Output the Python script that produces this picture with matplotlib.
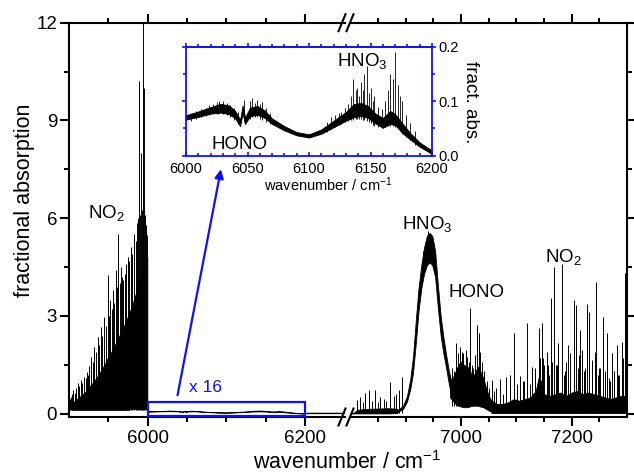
import matplotlib
matplotlib.use('Agg')
import matplotlib.pyplot as plt
from matplotlib.ticker import FixedLocator, MultipleLocator, FormatStrFormatter
from matplotlib.patches import Rectangle, FancyArrowPatch
from matplotlib.lines import Line2D

plt.rcParams['font.family'] = ['Liberation Sans', 'DejaVu Sans']
plt.rcParams['mathtext.fontset'] = 'custom'
plt.rcParams['mathtext.rm'] = 'Liberation Sans'
plt.rcParams['mathtext.it'] = 'Liberation Sans:italic'

# ---- NO2 band, 5900-6000 cm-1: dense body (lo/hi) and the single lines on top
no2a_wn = [5900, 5905, 5910, 5915, 5920, 5925, 5930, 5935, 5940, 5945, 5950,
           5955, 5960, 5965, 5970, 5975, 5980, 5985, 5990, 5995, 5999.5]
no2a_lo = [0.15, 0.12, 0.12, 0.12, 0.12, 0.12, 0.12, 0.12, 0.12, 0.12, 0.12,
           0.12, 0.12, 0.12, 0.12, 0.12, 0.15, 0.15, 0.15, 0.2, 0.2]
no2a_hi = [0.25, 0.35, 0.45, 0.55, 0.65, 0.8, 0.95, 1.1, 1.3, 1.5, 1.75,
           1.95, 2.2, 2.45, 2.7, 3.0, 3.3, 3.7, 4.1, 4.6, 4.8]
no2a_pk_wn = [5901, 5902.5, 5904, 5905.5, 5907, 5909, 5911, 5913, 5915, 5917,
              5919.5, 5921, 5922.5, 5924, 5926, 5928, 5930, 5932, 5934, 5936.5,
              5938.5, 5940.7, 5942.5, 5945, 5947, 5949, 5951, 5952.5, 5954,
              5955.5, 5957.5, 5959.7, 5961, 5962.7, 5964.5, 5966, 5967.5, 5969,
              5971, 5972.5, 5974.6, 5976.5, 5978.8, 5980.5, 5983, 5985, 5987,
              5988, 5989, 5990, 5991.5, 5992.5, 5993.6, 5994.5, 5995.3, 5996.5,
              5998, 5999]
no2a_pk_h = [0.45, 0.52, 0.6, 0.73, 0.65, 0.8, 0.93, 0.85, 1.03, 0.95,
             1.14, 1.1, 1.29, 1.2, 1.45, 1.75, 1.6, 2.06, 1.9, 2.36,
             2.1, 2.67, 2.4, 2.98, 2.7, 4.25, 3.0, 3.49, 3.2,
             3.8, 3.4, 4.4, 3.9, 5.53, 4.0, 4.5, 4.2, 4.1,
             4.3, 4.6, 4.82, 4.7, 5.12, 4.9, 5.53, 5.3, 5.84,
             6.0, 10.2, 6.1, 8.0, 6.25, 12.1, 6.0, 10.0, 6.1,
             5.8, 5.5]

# ---- 6000-6200 cm-1 (shown magnified in the inset): mean level and noise half width
ins_wn = [6000, 6010, 6020, 6028, 6035, 6040, 6044, 6046, 6048, 6052, 6058, 6064,
          6070, 6080, 6090, 6100, 6110, 6120, 6130, 6136, 6142, 6148, 6154, 6160,
          6166, 6170, 6176, 6182, 6190, 6200]
ins_mid = [0.070, 0.076, 0.083, 0.087, 0.084, 0.075, 0.060, 0.085, 0.064, 0.080,
           0.083, 0.076, 0.063, 0.050, 0.040, 0.036, 0.044, 0.058, 0.072, 0.082,
           0.085, 0.080, 0.068, 0.060, 0.070, 0.066, 0.050, 0.036, 0.020, 0.006]
ins_hw = [0.004, 0.005, 0.006, 0.008, 0.008, 0.007, 0.006, 0.007, 0.006, 0.008,
          0.008, 0.007, 0.005, 0.004, 0.003, 0.003, 0.004, 0.006, 0.008, 0.012,
          0.012, 0.011, 0.009, 0.009, 0.012, 0.010, 0.009, 0.006, 0.004, 0.003]
ins_pk_wn = [6004, 6008, 6012, 6016, 6019, 6022, 6025, 6027, 6030, 6033, 6036,
             6039, 6042, 6047, 6052, 6054, 6056, 6058, 6060, 6062, 6065, 6068,
             6115, 6118, 6121, 6124, 6126, 6129, 6132, 6134, 6136, 6138, 6139,
             6141, 6142, 6144, 6145, 6147, 6149, 6150, 6152, 6153, 6156, 6159,
             6162, 6164, 6166, 6168, 6170, 6172, 6174, 6176, 6179, 6182, 6186]
ins_pk_lo = [0.064, 0.068, 0.070, 0.072, 0.075, 0.076, 0.077, 0.076, 0.076, 0.074,
             0.070, 0.066, 0.058, 0.062, 0.068, 0.070, 0.070, 0.070, 0.068, 0.066,
             0.062, 0.058, 0.044, 0.048, 0.052, 0.056, 0.058, 0.062, 0.064, 0.066,
             0.066, 0.068, 0.068, 0.068, 0.068, 0.066, 0.066, 0.064, 0.062, 0.060,
             0.056, 0.055, 0.052, 0.050, 0.052, 0.054, 0.054, 0.054, 0.052, 0.050,
             0.046, 0.040, 0.034, 0.028, 0.020]
ins_pk_h = [0.078, 0.082, 0.085, 0.088, 0.092, 0.095, 0.098, 0.100, 0.100, 0.096,
            0.092, 0.088, 0.080, 0.102, 0.100, 0.105, 0.096, 0.102, 0.095, 0.098,
            0.088, 0.078, 0.062, 0.070, 0.075, 0.078, 0.080, 0.088, 0.095, 0.110,
            0.140, 0.120, 0.125, 0.110, 0.135, 0.120, 0.150, 0.165, 0.115, 0.125,
            0.100, 0.110, 0.090, 0.085, 0.100, 0.120, 0.150, 0.140, 0.190, 0.130,
            0.110, 0.100, 0.075, 0.060, 0.045]
tail_wn = [6200, 6210, 6230, 6250]
tail_y = [0.006, 0.01, 0.01, 0.01]

# ---- 6800-6890 cm-1: weak lines
pre_wn = [6800, 6806, 6812, 6830, 6850, 6870, 6885]
pre_lo = [0.01, 0.01, 0.01, 0.01, 0.01, 0.01, 0.02]
pre_hi = [0.03, 0.03, 0.12, 0.15, 0.16, 0.17, 0.15]
pre_pk_wn = [6811.5, 6817.5, 6822, 6826.6, 6832.6, 6838, 6844.7, 6849, 6853.7,
             6859.7, 6865, 6871.8, 6877.8, 6882, 6886.8, 6892.9]
pre_pk_h = [0.42, 0.52, 0.35, 0.63, 0.73, 0.4, 0.73, 0.35, 0.5,
            0.45, 0.38, 0.98, 0.55, 0.6, 0.73, 1.13]

# ---- HNO3 band: centre line and noise half width
hn_wn = [6870, 6885, 6895, 6902, 6908, 6913, 6918, 6923, 6928, 6933, 6938,
         6943, 6948, 6953, 6958, 6963, 6968, 6973, 6978, 6983, 6988]
hn_mid = [0.05, 0.08, 0.2, 0.45, 0.9, 1.5, 2.5, 3.5, 4.2, 4.7, 5.0,
          5.1, 5.0, 4.6, 3.6, 2.7, 2.1, 1.6, 1.1, 0.75, 0.55]
hn_hw = [0.02, 0.03, 0.05, 0.08, 0.15, 0.25, 0.35, 0.35, 0.35, 0.4, 0.45,
         0.45, 0.45, 0.4, 0.35, 0.3, 0.25, 0.2, 0.2, 0.2, 0.2]
hn_pk_wn = [6932, 6936, 6939, 6941, 6944, 6947, 6950]
hn_pk_h = [5.0, 5.3, 5.5, 5.6, 5.5, 5.4, 5.2]

# ---- HONO band
ho_wn = [6980, 6985, 6990, 6995, 7000, 7005, 7010, 7015, 7020, 7025, 7030,
         7035, 7040, 7045, 7050, 7055, 7060]
ho_lo = [0.5, 0.4, 0.3, 0.25, 0.22, 0.2, 0.2, 0.22, 0.25, 0.25, 0.25,
         0.22, 0.2, 0.15, 0.1, 0.06, 0.04]
ho_hi = [1.0, 1.1, 1.3, 1.5, 1.6, 1.5, 1.45, 1.4, 1.1, 1.25, 1.45,
         1.3, 1.1, 0.8, 0.55, 0.4, 0.35]
ho_pk_wn = [6984, 6987, 6991, 6994, 6998, 7001, 7004, 7008, 7011, 7014, 7016.5,
            7019, 7022, 7025, 7028.6, 7031.5, 7034, 7038, 7042, 7046, 7050]
ho_pk_h = [1.4, 1.3, 2.16, 1.86, 2.06, 1.9, 1.85, 1.95, 1.75, 1.6, 3.23,
           1.5, 1.4, 1.8, 2.72, 2.47, 1.9, 1.6, 1.3, 1.0, 0.8]

# ---- NO2 lines, 7055-7300 cm-1
ra_wn = [7055, 7065, 7075, 7085, 7095, 7105, 7115, 7125, 7135, 7140, 7145, 7150,
         7160, 7170, 7180, 7190, 7200, 7210, 7220, 7230, 7240, 7250, 7260, 7270,
         7280, 7290, 7300]
ra_hi = [0.4, 0.3, 0.3, 0.35, 0.45, 0.4, 0.45, 0.5, 0.7, 1.1, 1.0, 0.6,
         0.55, 0.6, 0.65, 0.55, 0.65, 0.7, 0.6, 0.65, 0.6, 0.55, 0.5, 0.45,
         0.5, 0.55, 0.55]
ra_floor = 0.02
ra_pk_wn = [7055.7, 7060, 7063.5, 7070.7, 7076, 7081.6, 7088, 7088.8, 7096, 7101,
            7106.9, 7112, 7112.9, 7119, 7124, 7128, 7134, 7134.5, 7140, 7143,
            7146, 7149, 7150, 7155, 7158, 7159, 7162.4, 7165, 7168.4, 7172,
            7173, 7176, 7182.2, 7186, 7188, 7190, 7194, 7197, 7204.5, 7208,
            7212, 7212.5, 7215, 7218.4, 7219, 7223, 7224.4, 7227.5, 7232, 7236,
            7236.5, 7242.5, 7244, 7248, 7248.5, 7251, 7256, 7260, 7260.6,
            7263.6, 7268, 7268.4, 7272.6, 7275.6, 7277, 7281.6, 7284.6, 7286,
            7290.6, 7292.6, 7296.7]
ra_pk_h = [1.03, 0.7, 0.8, 1.08, 0.6, 1.14, 0.7, 1.2, 2.47, 0.9,
           1.17, 1.0, 1.0, 2.79, 0.9, 1.44, 1.3, 1.4, 2.62, 1.7,
           2.78, 1.7, 1.5, 1.9, 1.5, 1.2, 3.54, 1.6, 4.51, 1.5,
           1.5, 2.17, 4.61, 1.2, 1.3, 1.6, 2.1, 1.86, 3.49, 3.33,
           1.4, 1.8, 2.57, 1.6, 1.95, 1.3, 1.4, 3.36, 3.13, 1.65,
           1.6, 1.9, 4.05, 1.2, 1.4, 1.41, 2.98, 1.3, 1.2,
           2.47, 1.1, 1.0, 1.86, 1.3, 1.3, 2.1, 1.2, 1.2,
           2.2, 1.7, 4.31]

W, H = 634, 475
BLUE = '#1010ff'


def box(l, t, r, b):
    return [l / W, 1 - b / H, (r - l) / W, (b - t) / H]


def fxy(x, y):
    return x / W, 1 - y / H


def band(ax, wn, lo, hi):
    ax.fill_between(wn, lo, hi, color='k', lw=0.6)


def lines(ax, wn, base, h, lw=0.7):
    ax.vlines(wn, base, h, color='k', lw=lw)


fig = plt.figure(figsize=(6.34, 4.75), dpi=100)
ax1 = fig.add_axes(box(69, 22.7, 344.5, 417))
ax2 = fig.add_axes(box(350.5, 22.7, 627, 417))
ax_in = fig.add_axes(box(186, 46.7, 432, 155.5))

# left part of the broken axis
band(ax1, no2a_wn, no2a_lo, no2a_hi)
lines(ax1, no2a_pk_wn, 0.12, no2a_pk_h)
ins_lo = [m - w for m, w in zip(ins_mid, ins_hw)]
ins_hi = [m + w for m, w in zip(ins_mid, ins_hw)]
band(ax1, ins_wn, ins_lo, ins_hi)
ax1.plot(tail_wn, tail_y, color='k', lw=1.0)
ax1.add_patch(Rectangle((6000, -0.06), 200, 0.43, fill=False, ec=BLUE, lw=1.6,
                        clip_on=False, zorder=5))

# right part
band(ax2, pre_wn, pre_lo, pre_hi)
lines(ax2, pre_pk_wn, 0.01, pre_pk_h)
hn_lo = [m - w for m, w in zip(hn_mid, hn_hw)]
hn_hi = [m + w for m, w in zip(hn_mid, hn_hw)]
band(ax2, hn_wn, hn_lo, hn_hi)
lines(ax2, hn_pk_wn, 4.8, hn_pk_h)
band(ax2, ho_wn, ho_lo, ho_hi)
lines(ax2, ho_pk_wn, 0.25, ho_pk_h)
band(ax2, ra_wn, ra_floor, ra_hi)
lines(ax2, ra_pk_wn, ra_floor, ra_pk_h)

for ax in (ax1, ax2):
    ax.set_ylim(-0.1, 12)
    ax.yaxis.set_major_locator(FixedLocator([0, 3, 6, 9, 12]))
    ax.yaxis.set_minor_locator(FixedLocator([1.5, 4.5, 7.5, 10.5]))
    for s in ax.spines.values():
        s.set_linewidth(1.5)
    ax.tick_params(which='both', direction='out', width=1.5, top=True,
                   labelsize=13.5)
    ax.tick_params(which='major', length=6.5)
    ax.tick_params(which='minor', length=3.3)
    ax.tick_params(axis='x', pad=3)
    ax.tick_params(axis='y', pad=2)

ax1.set_xlim(5900, 6250)
ax1.xaxis.set_major_locator(FixedLocator([6000, 6200]))
ax1.xaxis.set_minor_locator(FixedLocator([5950, 6050, 6100, 6150]))
ax1.spines['right'].set_visible(False)
ax1.tick_params(which='both', right=False)

ax2.set_xlim(6800, 7300)
ax2.xaxis.set_major_locator(FixedLocator([7000, 7200]))
ax2.xaxis.set_minor_locator(FixedLocator([6850, 6900, 6950, 7050, 7100, 7150, 7250]))
ax2.spines['left'].set_visible(False)
ax2.tick_params(which='both', left=False, labelleft=False, right=True)

# inset
ax_in.set_facecolor('white')
band(ax_in, ins_wn, ins_lo, ins_hi)
ax_in.vlines(ins_pk_wn, ins_pk_lo, ins_pk_h, color='k', lw=0.6)
ax_in.set_xlim(6000, 6200)
ax_in.set_ylim(0, 0.2)
ax_in.xaxis.set_major_locator(MultipleLocator(50))
ax_in.xaxis.set_minor_locator(MultipleLocator(10))
ax_in.yaxis.set_major_locator(MultipleLocator(0.1))
ax_in.yaxis.set_minor_locator(MultipleLocator(0.05))
ax_in.yaxis.set_major_formatter(FormatStrFormatter('%.1f'))
for s in ax_in.spines.values():
    s.set_color(BLUE)
    s.set_linewidth(1.3)
ax_in.tick_params(which='both', color=BLUE, width=1.2, labelsize=10.5)
ax_in.tick_params(axis='x', which='both', direction='in', pad=4.5)
ax_in.tick_params(axis='y', which='both', direction='out', left=True, right=True,
                  labelleft=False, labelright=True, pad=1.5)
ax_in.tick_params(which='major', length=3.2)
ax_in.tick_params(which='minor', length=2.2)
top = ax_in.secondary_xaxis('top')
top.xaxis.set_major_locator(MultipleLocator(50))
top.xaxis.set_minor_locator(MultipleLocator(10))
top.spines['top'].set_color(BLUE)
top.spines['top'].set_linewidth(1.3)
top.tick_params(which='both', direction='out', color=BLUE, width=1.2, labeltop=False)
top.tick_params(which='major', length=3.2)
top.tick_params(which='minor', length=2.2)

# axis break marks
for y in (22.7, 417):
    for x in (342, 350):
        fig.add_artist(Line2D([(x - 3.5) / W, (x + 3.5) / W],
                              [1 - (y + 8.5) / H, 1 - (y - 8.5) / H],
                              color='k', lw=1.5, transform=fig.transFigure))

# labels
fig.text(*fxy(25, 200), 'fractional absorption', rotation=90, ha='center',
         va='center', fontsize=15.5)
fig.text(*fxy(347, 469), 'wavenumber / cm$^{-1}$', ha='center', va='baseline',
         fontsize=15.5)
fig.text(*fxy(328, 191.5), 'wavenumber / cm$^{-1}$', ha='center', va='baseline',
         fontsize=10.5)
fig.text(*fxy(470, 102), 'fract. abs.', rotation=270, ha='center', va='center',
         fontsize=13.5)

for x, y, s in [(88, 218, 'NO$_2$'), (402, 229, 'HNO$_3$'), (448, 297, 'HONO'),
                (545, 262, 'NO$_2$'), (212, 149, 'HONO'), (337, 66, 'HNO$_3$')]:
    fig.text(*fxy(x, y), s, ha='left', va='baseline', fontsize=13.5)
fig.text(*fxy(189, 391.5), 'x 16', ha='left', va='baseline', fontsize=12.5,
         color=BLUE)

fig.add_artist(FancyArrowPatch(fxy(177, 398), fxy(221.5, 166.5),
                               transform=fig.transFigure, arrowstyle='-|>',
                               mutation_scale=13, color=BLUE, lw=1.6))

fig.savefig('out.png', dpi=100)
